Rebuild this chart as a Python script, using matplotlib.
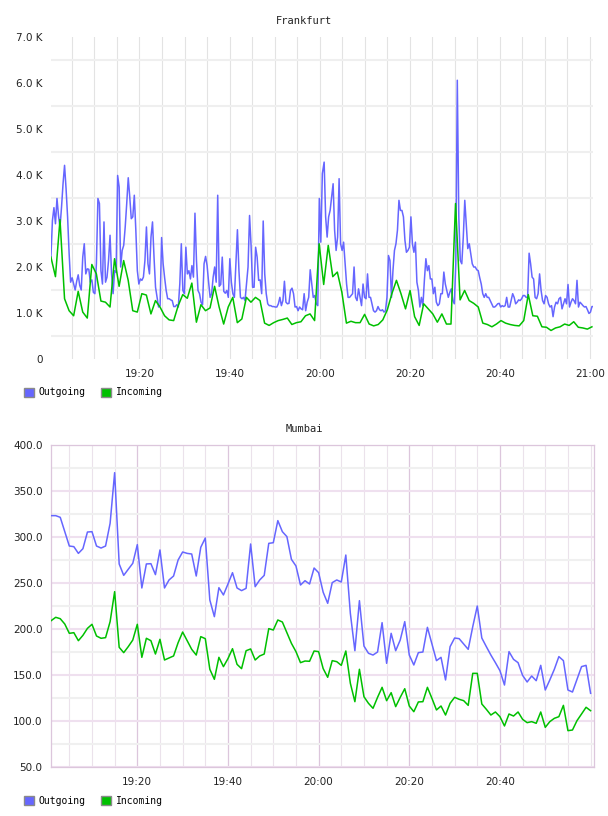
import numpy as np
import matplotlib
matplotlib.use('Agg')
import matplotlib.pyplot as plt
from matplotlib.ticker import MultipleLocator, FixedLocator, FuncFormatter
from matplotlib.patches import Patch

# ---------------- data ----------------
# Frankfurt (values in thousands), minutes after 19:00
fra_out_a_k = [2.215, 3.01, 3.29, 2.94, 3.49, 3.12, 2.87, 3.30, 3.81, 4.21, 3.70, 3.09, 2.30,
    1.67, 1.765, 1.63, 1.50, 1.69, 1.83, 1.60, 1.50, 2.215, 2.505,
    1.85, 1.96, 1.95, 1.67, 1.72, 1.45, 1.42, 2.07, 3.49, 3.38,
    1.92, 1.63, 2.98, 1.67, 1.78, 2.14, 2.69, 1.85, 1.42, 1.92,
    1.88, 3.99, 3.74, 2.00, 2.36, 2.47, 2.87, 3.38, 3.94, 3.52,
    3.05, 3.09, 3.56, 2.80, 1.92, 1.63, 1.74, 1.71, 1.78, 2.14,
    2.87, 2.07, 1.85, 2.65, 2.98, 2.215, 1.56, 1.34, 1.13, 1.16,
    2.64, 2.07, 1.765, 1.49, 1.31, 1.31, 1.285, 1.27, 1.14, 1.14,
    1.18, 1.13, 1.63, 2.505, 1.49, 1.42, 2.43, 1.85, 1.92, 1.74,
    2.03, 1.78, 3.17, 2.14, 1.49, 1.42, 1.235, 1.18, 2.07, 2.23,
    2.03, 1.67, 1.34, 1.42, 1.78, 2.00, 1.67, 3.56, 1.58, 1.62,
    2.215, 1.47, 1.43, 1.49, 1.34, 2.18, 1.67, 1.42, 1.34, 2.07,
    2.81, 1.92, 1.34, 1.31, 1.34, 1.27, 1.63, 2.00, 3.12, 2.47,
    1.56, 1.56, 2.43, 2.215, 1.71, 1.72, 1.42, 3.00, 1.85, 1.42,
    1.20, 1.16, 1.16, 1.14, 1.14, 1.13, 1.13, 1.20, 1.34, 1.16,
    1.27, 1.69, 1.235, 1.20, 1.21, 1.49, 1.54, 1.42, 1.13, 1.14,
    1.05, 1.13, 1.09, 1.07, 1.42, 1.05, 1.235, 1.34, 1.94, 1.63,
    1.34, 1.38, 1.20, 1.16, 3.49, 2.54, 4.03]
fra_out_b_k = [4.28, 3.09, 2.65, 3.09, 3.23, 3.52, 3.81, 2.80, 2.36, 2.65,
    3.92, 2.505, 2.36, 2.54, 2.07, 1.63, 1.34, 1.34, 1.38, 1.42,
    2.00, 1.34, 1.27, 1.525, 1.34, 1.16, 1.63, 1.34, 1.31, 1.85,
    1.34, 1.34, 1.20, 1.05, 1.02, 1.05, 1.14, 1.07, 1.05, 1.07,
    1.02, 1.05, 1.34, 2.25, 2.14, 1.34, 1.92, 2.36, 2.505, 2.80,
    3.45, 3.23, 3.23, 3.09, 2.58, 2.32, 2.36, 2.43, 3.09, 2.505,
    2.32, 2.54, 1.67, 1.49, 1.13, 1.34, 1.16, 1.71, 2.18, 1.92,
    2.03, 1.74, 1.74, 1.42, 1.56, 1.235, 1.16, 1.20, 1.42, 1.42,
    1.89, 1.63, 1.49, 1.34, 1.45, 1.525, 1.27, 1.20, 2.07, 6.06,
    3.09, 2.14, 2.07, 2.65, 3.45, 2.94, 2.40, 2.505, 2.29, 2.07,
    2.00, 2.00, 1.94, 1.92, 1.765, 1.63, 1.42, 1.34, 1.42, 1.34,
    1.34, 1.27, 1.20, 1.13, 1.13, 1.16, 1.20, 1.21, 1.13, 1.16,
    1.14, 1.16, 1.34, 1.13, 1.13, 1.27, 1.42, 1.34, 1.20, 1.235,
    1.285, 1.27, 1.31, 1.38, 1.38, 1.34, 1.34, 2.30, 2.07, 1.78,
    1.74, 1.34, 1.31, 1.42, 1.85, 1.49, 1.27, 1.20, 1.38, 1.34,
    1.20, 1.13, 1.16, 0.92, 1.13, 1.235, 1.20, 1.31, 1.34, 1.09,
    1.20, 1.31, 1.20, 1.62, 1.13, 1.235, 1.31, 1.27, 1.20, 1.71,
    1.13, 1.235, 1.20, 1.16, 1.13, 1.14, 1.07, 0.99, 1.02, 1.14,
    1.14]
fra_in_k = [2.215, 1.79, 3.03, 1.31, 1.05, 0.94, 1.47, 1.02, 0.89, 2.055,
    1.85, 1.26, 1.235, 1.13, 2.18, 1.58, 2.14, 1.71, 1.05, 1.02,
    1.42, 1.39, 0.98, 1.27, 1.13, 0.94, 0.85, 0.835, 1.16, 1.40,
    1.32, 1.65, 0.80, 1.18, 1.05, 1.11, 1.58, 1.13, 0.76, 1.13,
    1.34, 0.79, 0.87, 1.34, 1.235, 1.34, 1.27, 0.78, 0.73, 0.79,
    0.835, 0.86, 0.89, 0.75, 0.79, 0.81, 0.94, 0.98, 0.835, 2.505,
    1.62, 2.47, 1.79, 1.89, 1.45, 0.78, 0.82, 0.79, 0.79, 0.97,
    0.76, 0.72, 0.75, 0.85, 1.07, 1.42, 1.71, 1.42, 1.09, 1.49,
    0.92, 0.73, 1.20, 1.09, 0.98, 0.80, 0.98, 0.76, 0.76, 3.38,
    1.285, 1.49, 1.27, 1.21, 1.13, 0.78, 0.75, 0.70, 0.76, 0.835,
    0.78, 0.75, 0.73, 0.72, 0.835, 1.40, 0.94, 0.93, 0.70, 0.69,
    0.62, 0.675, 0.70, 0.76, 0.73, 0.81, 0.69, 0.675, 0.65, 0.70]

# Mumbai, one sample per minute from 19:01
mum_out = [323.2, 323.2, 321.4, 305.8, 290.2, 289.5, 282.2, 287.3, 305.4, 305.8,
    290.2, 288.0, 290.2, 314.9, 369.9, 270.7, 258.3, 264.9, 271.4, 291.7,
    244.6, 270.7, 271.0, 259.1, 285.9, 244.6, 253.3, 257.6, 275.0, 283.7,
    282.2, 281.5, 257.6, 288.8, 298.9, 231.5, 213.4, 244.9, 237.0, 248.9,
    261.2, 244.6, 241.7, 244.2, 292.4, 246.0, 253.3, 258.3, 293.1, 293.8,
    317.8, 305.8, 300.4, 275.7, 268.5, 247.8, 252.5, 248.9, 266.3, 261.2,
    240.0, 227.9, 250.4, 253.3, 251.1, 280.4, 217.0, 176.4, 230.8, 181.5,
    173.6, 171.7, 175.0, 206.9, 162.7, 195.3, 176.4, 188.0, 208.0, 171.7,
    160.9, 174.3, 175.0, 201.8, 183.7, 165.6, 169.2, 144.6, 180.8, 190.2,
    189.5, 183.7, 177.9, 202.5, 225.0, 190.2, 180.8, 171.7, 163.4, 154.7,
    139.1, 175.4, 167.0, 163.4, 149.6, 142.4, 148.9, 143.8, 160.5, 133.7,
    144.6, 156.2, 170.0, 165.6, 133.7, 131.5, 145.3, 159.1, 160.5, 130.1]
mum_in = [209.1, 212.7, 211.2, 205.4, 195.3, 196.0, 187.3, 193.1, 200.7, 205.1,
    192.4, 189.9, 190.6, 208.0, 240.6, 180.1, 174.3, 180.8, 188.0, 205.1,
    169.2, 189.9, 187.3, 172.8, 188.8, 166.3, 168.5, 170.7, 185.1, 196.7,
    187.3, 177.9, 171.7, 191.7, 189.5, 156.2, 145.3, 169.2, 159.1, 167.8,
    178.6, 161.6, 156.9, 176.4, 178.3, 166.3, 170.7, 172.8, 200.4, 198.9,
    209.8, 207.6, 196.0, 184.4, 175.4, 163.4, 165.2, 164.9, 176.1, 175.4,
    157.0, 147.5, 165.6, 164.5, 160.5, 176.1, 141.0, 121.0, 156.2, 126.4,
    119.2, 113.8, 125.7, 136.6, 122.1, 130.8, 115.6, 125.7, 135.1, 116.3,
    110.1, 120.7, 121.0, 136.6, 124.6, 112.0, 116.3, 106.5, 119.2, 125.7,
    123.6, 122.1, 117.0, 151.8, 151.8, 118.5, 112.7, 106.5, 109.8, 104.7,
    94.6, 107.6, 105.4, 109.8, 101.8, 98.2, 99.3, 97.5, 109.8, 93.1,
    99.3, 102.9, 104.7, 117.0, 89.5, 90.2, 100.4, 107.6, 114.9, 111.2]

series_labels = ['Outgoing', 'Incoming']
titles = ['Frankfurt', 'Mumbai']

# time axes (minutes after 19:00)
t_fra_out = np.concatenate([np.linspace(0.33, 60.6, len(fra_out_a_k)),
                            np.linspace(61.0, 120.8, len(fra_out_b_k))])
fra_out = np.array(fra_out_a_k + fra_out_b_k) * 1000
t_fra_in = np.linspace(0.33, 120.46, len(fra_in_k))
fra_in = np.array(fra_in_k) * 1000
t_mum = np.arange(1, len(mum_out) + 1)

# ---------------- style ----------------
BLUE = '#6666ff'
GREEN = '#00c000'
TXT = '#222222'
MONO = 'DejaVu Sans Mono'

def tfmt(m, pos=None):
    m = int(round(m))
    return f"{19 + m // 60}:{m % 60:02d}"

W, H = 608, 816
fig = plt.figure(figsize=(W / 100, H / 100), dpi=100)
ax1 = fig.add_axes([51 / W, 1 - 359 / H, 542 / W, 322 / H])
ax2 = fig.add_axes([51 / W, 1 - 767 / H, 543 / W, 322 / H])

# ---- Frankfurt ----
ax1.plot(t_fra_out, fra_out, color=BLUE, lw=1.1, zorder=3)
ax1.plot(t_fra_in, fra_in, color=GREEN, lw=1.1, zorder=4)
ax1.set_xlim(0.35, 120.7)
ax1.set_ylim(0, 7000)
for s in ax1.spines.values():
    s.set_visible(False)
ax1.yaxis.set_major_locator(FixedLocator(np.arange(0, 7001, 1000)))
ax1.yaxis.set_minor_locator(FixedLocator(np.arange(500, 7000, 1000)))
ax1.yaxis.set_major_formatter(FuncFormatter(lambda v, p: '0' if v == 0 else f"{v/1000:.1f} K"))
ax1.xaxis.set_major_locator(FixedLocator([20, 40, 60, 80, 100, 120]))
ax1.xaxis.set_minor_locator(MultipleLocator(5))
ax1.xaxis.set_major_formatter(FuncFormatter(tfmt))
ax1.grid(which='minor', axis='y', color='#efefef', lw=1.5)
ax1.grid(which='both', axis='x', color='#e3e3e3', lw=0.8)
ax1.set_axisbelow(True)
ax1.tick_params(which='both', length=0, labelsize=7.5, colors=TXT)
ax1.tick_params(axis='y', pad=6)
ax1.tick_params(axis='x', pad=7)

# ---- Mumbai ----
ax2.plot(t_mum, mum_out, color=BLUE, lw=1.1, zorder=3)
ax2.plot(t_mum, mum_in, color=GREEN, lw=1.1, zorder=4)
ax2.set_xlim(0.96, 120.75)
ax2.set_ylim(50, 400)
for s in ax2.spines.values():
    s.set_color('#dcc6dc')
    s.set_linewidth(0.9)
ax2.yaxis.set_major_locator(MultipleLocator(50))
ax2.yaxis.set_minor_locator(MultipleLocator(25))
ax2.yaxis.set_major_formatter(FuncFormatter(lambda v, p: f"{v:.1f}"))
ax2.xaxis.set_major_locator(FixedLocator([20, 40, 60, 80, 100]))
ax2.xaxis.set_minor_locator(MultipleLocator(5))
ax2.xaxis.set_major_formatter(FuncFormatter(tfmt))
ax2.grid(which='major', axis='y', color='#efe0ef', lw=1.5)
ax2.grid(which='minor', axis='y', color='#f0f0f0', lw=1.5)
ax2.grid(which='major', axis='x', color='#dcc6dc', lw=0.9)
ax2.grid(which='minor', axis='x', color='#ebe2eb', lw=0.8)
ax2.set_axisbelow(True)
ax2.tick_params(which='both', length=0, labelsize=7.5, colors=TXT)
ax2.tick_params(axis='y', pad=6)
ax2.tick_params(axis='x', pad=7)

# titles
fig.text(0.5, 1 - 20.5 / H, titles[0], ha='center', va='center', family=MONO, fontsize=7.5, color=TXT)
fig.text(0.5, 1 - 429.5 / H, titles[1], ha='center', va='center', family=MONO, fontsize=7.5, color=TXT)

# legends
for yc in (392.5, 801):
    handles = [Patch(facecolor=BLUE, edgecolor='#8a8a8a', lw=1.0),
               Patch(facecolor=GREEN, edgecolor='#8a8a8a', lw=1.0)]
    fig.legend(handles=handles, labels=series_labels, loc='center left',
               bbox_to_anchor=(23.5 / W, 1 - yc / H), ncol=2, frameon=False,
               prop={'family': MONO, 'size': 7}, handlelength=1.05, handleheight=1.05,
               handletextpad=0.5, columnspacing=1.6, borderpad=0, borderaxespad=0)

fig.savefig('out.png', dpi=100)
